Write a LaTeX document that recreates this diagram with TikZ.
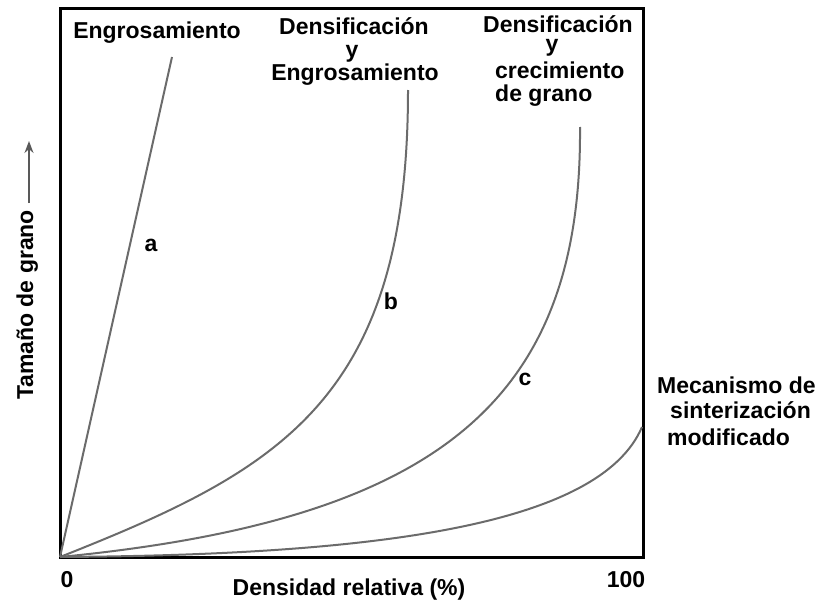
\documentclass[tikz,border=0pt]{standalone}
\usepackage{fontspec}
\setmainfont{Liberation Sans}
\usetikzlibrary{arrows.meta}
\definecolor{curvegray}{gray}{0.42}
\definecolor{arrowgray}{gray}{0.35}
\tikzset{
  lbl/.style={font=\bfseries\fontsize{23}{26}\selectfont, inner sep=0pt, anchor=base},
  lbll/.style={lbl, anchor=base west},
  curve/.style={draw=curvegray, line width=2pt},
  frame/.style={draw=black, line width=3pt},
}
\begin{document}
\begin{tikzpicture}[x=1pt,y=-1pt]
\useasboundingbox (0,0) rectangle (818,602);
% frame
\coordinate (O) at (60,557);
\draw[frame] (60,9) rectangle (643,557);
% curve end points
\coordinate (aT) at (172,57);
\coordinate (bT) at (408,90);
\coordinate (cT) at (580,127);
\coordinate (dT) at (642,427);
\draw[curve] (O) -- (aT);
\draw[curve] (O) .. controls (280,470) and (408,400) .. (bT);
\draw[curve] (O) .. controls (440,520) and (582,400) .. (cT);
\draw[curve] (O) .. controls (380,555) and (600,525) .. (dT);
% curve letters
\node[lbl] (la) at (151,251) {a};
\node[lbl] (lb) at (391,309) {b};
\node[lbl] (lc) at (525,385) {c};
% top labels
\node[lbl] (t1) at (157,38) {Engrosamiento};
\node[lbl] (t2a) at (354,35) {Densificación};
\node[lbl] (t2b) at (352,57) {y};
\node[lbl] (t2c) at (355,80) {Engrosamiento};
\node[lbl] (t3a) at (558,33) {Densificación};
\node[lbl] (t3b) at (552,52) {y};
\node[lbll] (t3c) at (495,78) {crecimiento};
\node[lbll] (t3d) at (495,101) {de grano};
\node[lbll] (t4a) at (657,393) {Mecanismo de};
\node[lbll] (t4b) at (670,418) {sinterización};
\node[lbll] (t4c) at (667,445) {modificado};
% axes labels
\node[lbl] (x0) at (67,587) {0};
\node[lbl] (x100) at (626,587) {100};
\node[lbl] (xl) at (349,595) {Densidad relativa (\%)};
\node[lbl, rotate=90] (yl) at (33,305) {Tamaño de grano};
\coordinate (ya0) at (29,203);
\coordinate (ya1) at (29,141);
\draw[draw=arrowgray, line width=1.6pt, -{Stealth[length=12pt,width=9pt]}] (ya0) -- (ya1);
\end{tikzpicture}
\end{document}
